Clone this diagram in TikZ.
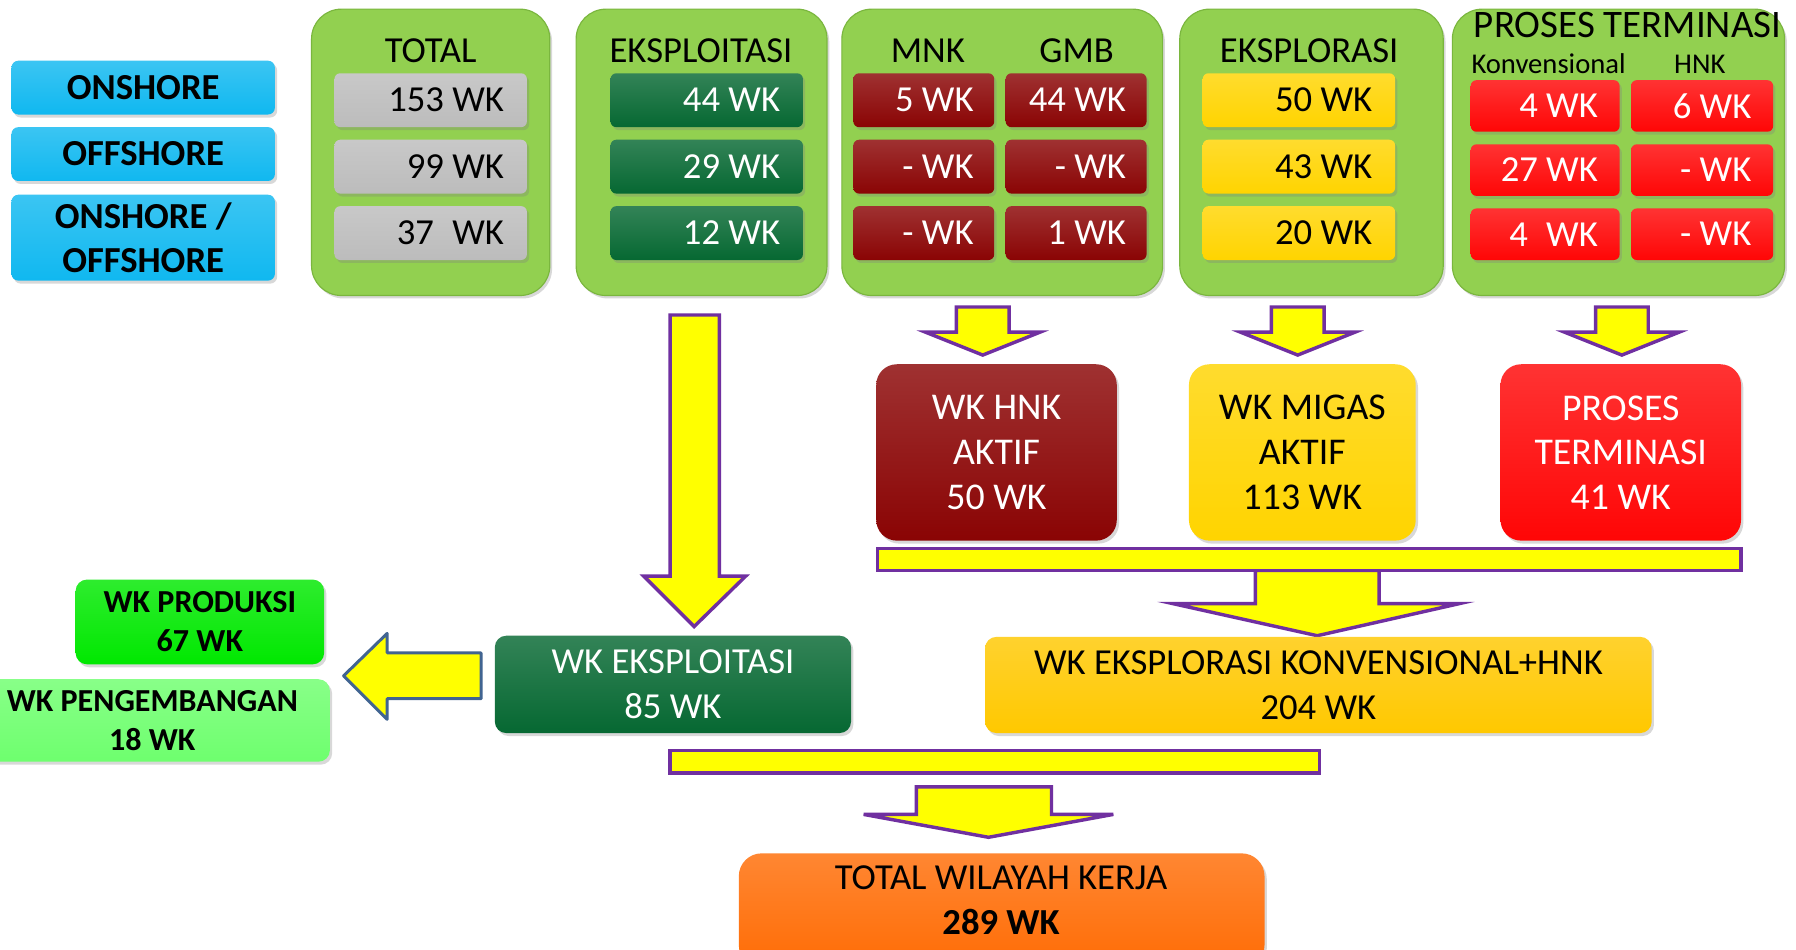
\documentclass[tikz,border=0pt]{standalone}
\usepackage{fontspec}
\setmainfont{Carlito}
\usetikzlibrary{shadows}
\definecolor{cont}{RGB}{146,208,80}
\definecolor{contedge}{RGB}{122,182,62}
\definecolor{skyb}{RGB}{16,184,240}
\definecolor{grayc}{RGB}{188,188,188}
\definecolor{dgreen}{RGB}{6,104,50}
\definecolor{dred}{RGB}{138,4,4}
\definecolor{yel}{RGB}{255,212,0}
\definecolor{yel2}{RGB}{255,200,0}
\definecolor{redc}{RGB}{255,6,6}
\definecolor{orng}{RGB}{255,108,5}
\definecolor{gbright}{RGB}{0,232,0}
\definecolor{glight}{RGB}{110,255,110}
\definecolor{purp}{RGB}{112,48,160}
\definecolor{abl}{RGB}{65,100,145}
\definecolor{arry}{RGB}{255,255,0}
\newcommand{\fsz}[2]{\fontsize{#1}{#2}\selectfont}
\begin{document}
\begin{tikzpicture}[x=0.5pt,y=-0.5pt,
  every node/.style={inner sep=0pt},
  shad/.style={drop shadow={opacity=0.3,shadow xshift=1pt,shadow yshift=-1.3pt}},
  gloss/.style={top color=#1!82!white, middle color=#1, bottom color=#1},
  container/.style={rounded corners=13pt, draw=contedge, line width=0.5pt, fill=cont, shad, minimum height=125pt},
  side/.style={rounded corners=3pt, gloss=skyb, shad, minimum width=115pt, align=flush center, font=\fsz{16}{19.5}\bfseries},
  cell/.style={rounded corners=2.5pt, shad, minimum height=23.5pt, align=flush right, font=\fsz{16}{19}},
  cA/.style={cell, text width=64pt, inner xsep=10pt},
  cM/.style={cell, text width=43.5pt, inner xsep=9pt},
  cPL/.style={cell, minimum height=22.5pt, text width=46pt, inner xsep=9.5pt},
  cPR/.style={cell, minimum height=22.5pt, text width=43pt, inner xsep=9.5pt},
  ttl/.style={font=\fsz{16}{19}},
  mid/.style={rounded corners=9pt, shad, align=flush center, minimum height=77pt, font=\fsz{16.5}{19.5}},
  low/.style={rounded corners=5pt, shad, align=flush center, font=\fsz{16}{19.5}},
  lowb/.style={rounded corners=5pt, shad, align=flush center, font=\fsz{14}{17}\bfseries},
  barrow/.style={fill=arry, draw=purp, line width=1.5pt, line join=miter}
]
\useasboundingbox (0,0) rectangle (1568,829);
\clip (0,0) rectangle (1568,829);
\fill[white] (0,0) rectangle (1568,829);

% side labels
\node[side, minimum height=23.5pt] (on) at (125,76.5) {ONSHORE};
\node[side, minimum height=23.5pt] (off) at (125,134.5) {OFFSHORE};
\node[side, minimum height=37.5pt] (onoff) at (125,207.5) {ONSHORE /\\OFFSHORE};

% containers
\node[container, minimum width=104pt] (ctot) at (376,133) {};
\node[container, minimum width=109.5pt] (cexp) at (612.5,133) {};
\node[container, minimum width=140pt] (cmnk) at (875,133) {};
\node[container, minimum width=115pt] (cexr) at (1145,133) {};
\node[container, minimum width=145pt] (cter) at (1413,133) {};

% titles
\node[ttl] (ttot) at (376,44) {TOTAL};
\node[ttl] (texp) at (612,44) {EKSPLOITASI};
\node[ttl] (tmnk) at (810,44) {MNK};
\node[ttl] (tgmb) at (940,44) {GMB};
\node[ttl] (texr) at (1143,44) {EKSPLORASI};
\node[font=\fsz{17}{20}] (tter) at (1421,22) {PROSES TERMINASI};
\node[font=\fsz{12.5}{15}] (tkon) at (1352,56) {Konvensional};
\node[font=\fsz{12.5}{15}] (thnk) at (1484,56) {HNK};

% TOTAL cells
\node[cA, gloss=grayc] (g1) at (376,87.5) {153 WK};
\node[cA, gloss=grayc] (g2) at (376,145.5) {99 WK};
\node[cA, gloss=grayc] (g3) at (376,203.5) {37\enspace WK};
% EKSPLOITASI cells
\node[cA, gloss=dgreen, text=white] (e1) at (617,87.5) {44 WK};
\node[cA, gloss=dgreen, text=white] (e2) at (617,145.5) {29 WK};
\node[cA, gloss=dgreen, text=white] (e3) at (617,203.5) {12 WK};
% MNK / GMB cells
\node[cM, gloss=dred, text=white] (m1) at (806.5,87.5) {5 WK};
\node[cM, gloss=dred, text=white] (m2) at (806.5,145.5) {- WK};
\node[cM, gloss=dred, text=white] (m3) at (806.5,203.5) {- WK};
\node[cM, gloss=dred, text=white] (b1) at (939.5,87.5) {44 WK};
\node[cM, gloss=dred, text=white] (b2) at (939.5,145.5) {- WK};
\node[cM, gloss=dred, text=white] (b3) at (939.5,203.5) {1 WK};
% EKSPLORASI cells
\node[cA, gloss=yel] (x1) at (1134,87.5) {50 WK};
\node[cA, gloss=yel] (x2) at (1134,145.5) {43 WK};
\node[cA, gloss=yel] (x3) at (1134,203.5) {20 WK};
% PROSES TERMINASI cells
\node[cPL, gloss=redc, text=white] (p1) at (1349,92.5) {4 WK};
\node[cPL, gloss=redc, text=white] (p2) at (1349,148.5) {27 WK};
\node[cPL, gloss=redc, text=white] (p3) at (1349,204.5) {4\enspace WK};
\node[cPR, gloss=redc, text=white] (h1) at (1486,92.5) {6 WK};
\node[cPR, gloss=redc, text=white] (h2) at (1486,148.5) {- WK};
\node[cPR, gloss=redc, text=white] (h3) at (1486,204.5) {- WK};

% small down arrows
\foreach \c in {858,1133,1416}{
  \draw[barrow] (\c-23,268) -- (\c+23,268) -- (\c+23,290) -- (\c+50,290) -- (\c,310) -- (\c-50,290) -- (\c-23,290) -- cycle;
}

% middle boxes
\node[mid, gloss=dred, text=white, minimum width=105pt] (hnk) at (870,395) {WK HNK\\AKTIF\\50 WK};
\node[mid, gloss=yel, minimum width=99pt] (migas) at (1137,395) {WK MIGAS\\AKTIF\\113 WK};
\node[mid, gloss=redc, text=white, minimum width=105pt] (term) at (1415,395) {PROSES\\TERMINASI\\41 WK};

% big arrow + bar
\draw[barrow] (1096,498) -- (1204,498) -- (1204,527) -- (1274,527) -- (1150,555) -- (1024,527) -- (1096,527) -- cycle;
\draw[barrow] (766,479) rectangle (1520,498);

\node[low, gloss=yel2, minimum width=291pt, minimum height=42pt] (konv) at (1151,598) {WK EKSPLORASI KONVENSIONAL+HNK\\204 WK};

% long vertical arrow
\draw[barrow] (585,275) -- (628,275) -- (628,503) -- (651,503) -- (606,547) -- (562,503) -- (585,503) -- cycle;

\node[low, gloss=dgreen, text=white, minimum width=155.5pt, minimum height=42.5pt] (wkexp) at (587.5,597.5) {WK EKSPLOITASI\\85 WK};

% left arrow
\draw[fill=arry, draw=abl, line width=1.3pt, line join=round] (420,570) -- (338,570) -- (338,553) -- (300,590) -- (338,628) -- (338,610) -- (420,610) -- cycle;

\node[lowb, gloss=gbright, minimum width=108.5pt, minimum height=37pt] (prod) at (174.5,543) {WK PRODUKSI\\67 WK};
\node[lowb, gloss=glight, minimum width=155pt, minimum height=36pt] (peng) at (133,629) {WK PENGEMBANGAN\\18 WK};

% bottom bar + arrow
\draw[barrow] (585,655) rectangle (1152,675);
\draw[barrow] (800,687) -- (918,687) -- (918,711) -- (972,711) -- (863,731) -- (754,711) -- (800,711) -- cycle;

\node[rounded corners=10pt, shad, gloss=orng, minimum width=229.5pt, minimum height=50pt] (tot) at (874.5,795) {};
\node[font=\fsz{16}{19.5}, align=flush center] (tottxt) at (874,786) {TOTAL WILAYAH KERJA\\\textbf{289 WK}};
\end{tikzpicture}
\end{document}
